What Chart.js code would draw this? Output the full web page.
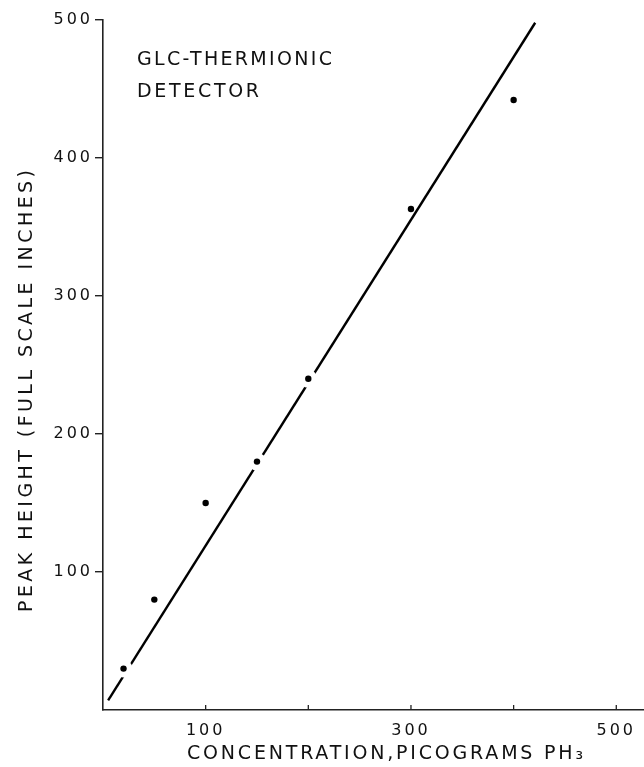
<!DOCTYPE html>
<html lang="en">
<head>
<meta charset="UTF-8">
<title>Peak height vs concentration PH3</title>
<style>
  html, body { margin: 0; padding: 0; background: #fff; overflow: hidden; }
  canvas { display: block; }
</style>
</head>
<body>
<canvas id="chart" width="644" height="767"></canvas>
<script src="https://cdn.jsdelivr.net/npm/chart.js"></script>
<script>
const concentration = [20, 50, 100, 150, 200, 300, 400]
const peakHeight = [30, 80, 150, 180, 240, 363, 442]
// the drawn line is broken around these points
const lineBrokenAt = [20, 150, 200]
// ends of the straight line
const fitX = [5, 421]
const fitY = [7, 498]
const xTicks = [100, 200, 300, 400, 500]
const xTickLabels = ['100', '', '300', '', '500']
const yTicks = [100, 200, 300, 400, 500]
const xTitle = 'CONCENTRATION,PICOGRAMS PH\u2083'
const yTitle = 'PEAK HEIGHT (FULL SCALE INCHES)'
const noteLines = ['GLC-THERMIONIC', 'DETECTOR']

const FONT = '"DejaVu Sans", sans-serif'
const INK = '#111'
const TICK_SPACING = '3px'

const points = concentration.map((c, i) => ({ x: c, y: peakHeight[i] }))
const halo = points.filter(p => lineBrokenAt.includes(p.x))
const fit = fitX.map((x, i) => ({ x: x, y: fitY[i] }))

// draws text stretched by letter spacing to a given width
function spacedText(ctx, text, x, y, width, size) {
    ctx.font = size + 'px ' + FONT
    ctx.letterSpacing = '0px'
    const w0 = ctx.measureText(text).width
    const n = [...text].length
    ctx.letterSpacing = ((width - w0) / (n - 1)) + 'px'
    ctx.fillText(text, x, y)
}

const extras = {
    id: 'extras',
    beforeUpdate(chart) { chart.ctx.letterSpacing = TICK_SPACING },
    beforeDraw(chart) { chart.ctx.letterSpacing = TICK_SPACING },
    afterDraw(chart) {
        const ctx = chart.ctx
        const x = chart.scales.x
        const area = chart.chartArea
        ctx.save()
        // inward tick marks on the x axis
        ctx.strokeStyle = '#222'
        ctx.lineWidth = 1.3
        xTicks.forEach(v => {
            const px = x.getPixelForValue(v)
            ctx.beginPath()
            ctx.moveTo(px, area.bottom)
            ctx.lineTo(px, area.bottom - 5)
            ctx.stroke()
        })

        ctx.fillStyle = INK
        ctx.textAlign = 'left'
        ctx.textBaseline = 'alphabetic'
        spacedText(ctx, noteLines[0], 137, 65, 195, 19)
        spacedText(ctx, noteLines[1], 137, 97, 122, 19)

        spacedText(ctx, xTitle, 187, 759, 396, 19)

        ctx.translate(32, 612)
        ctx.rotate(-Math.PI / 2)
        spacedText(ctx, yTitle, 0, 0, 442, 19)
        ctx.restore()
    }
}

new Chart(document.getElementById('chart'), {
    type: 'scatter',
    data: {
        datasets: [
            {
                label: 'points',
                data: points,
                order: 0,
                pointRadius: 3.2,
                pointBackgroundColor: '#000',
                pointBorderWidth: 0
            },
            {
                label: 'gap',
                data: halo,
                order: 1,
                pointRadius: 9,
                pointBackgroundColor: '#fff',
                pointBorderWidth: 0
            },
            {
                label: 'line',
                data: fit,
                order: 2,
                showLine: true,
                borderColor: '#000',
                borderWidth: 2.4,
                pointRadius: 0
            }
        ]
    },
    options: {
        responsive: false,
        animation: false,
        devicePixelRatio: 1,
        layout: { autoPadding: false, padding: { top: 20, right: 0, bottom: 0, left: 0 } },
        plugins: { legend: { display: false }, tooltip: { enabled: false } },
        scales: {
            x: {
                type: 'linear',
                position: 'bottom',
                min: 0,
                max: 527,
                afterBuildTicks: s => { s.ticks = xTicks.map(v => ({ value: v })) },
                afterFit: s => { s.height = 57; s.paddingLeft = 0; s.paddingRight = 0 },
                ticks: {
                    callback: v => xTickLabels[xTicks.indexOf(v)],
                    font: { family: FONT, size: 16 },
                    color: INK,
                    padding: 3,
                    maxRotation: 0,
                    autoSkip: false
                },
                grid: { display: false },
                border: { display: true, color: '#222', width: 1.6 }
            },
            y: {
                min: 0,
                max: 500,
                afterBuildTicks: s => { s.ticks = yTicks.map(v => ({ value: v })) },
                afterFit: s => { s.width = 103 },
                ticks: {
                    font: { family: FONT, size: 16 },
                    color: INK,
                    padding: 2
                },
                grid: { display: true, drawOnChartArea: false, drawTicks: true, tickLength: 8, color: '#222', lineWidth: 1.4 },
                border: { display: true, color: '#222', width: 1.6 }
            }
        }
    },
    plugins: [extras]
})
</script>
</body>
</html>
